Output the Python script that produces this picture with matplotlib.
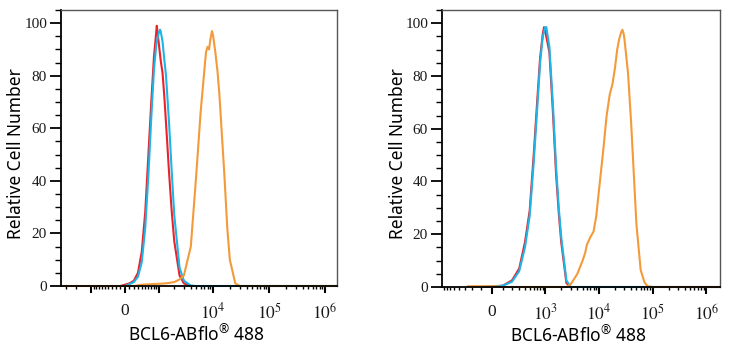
import numpy as np
import matplotlib
matplotlib.use("Agg")
import matplotlib.pyplot as plt
from matplotlib.ticker import FixedLocator, FixedFormatter, MultipleLocator

plt.rcParams["mathtext.fontset"] = "stix"

# ---------------- data: fluorescence intensity vs. relative cell number ----------------
# Left sample
left_red_x = [-100, 0, 100, 200, 300, 400, 500, 600, 700, 800, 900, 920, 1000, 1100,
              1200, 1300, 1400, 1600, 1800, 2000, 2500, 3000, 4000]
left_red_y = [0, 0.5, 1, 2, 5, 13, 28, 50, 70, 87, 97, 99, 93, 86,
              81, 72, 62, 43, 28, 17, 4, 1, 0]

left_blue_x = [0, 100, 200, 300, 400, 500, 600, 700, 800, 900, 1000, 1070, 1100, 1200,
               1300, 1400, 1600, 1800, 2000, 2500, 3000, 4000, 5000, 1.5e6]
left_blue_y = [0, 0.7, 1.5, 3.5, 9, 22, 42, 64, 82, 92, 96, 97.5, 97, 93,
               86, 80, 62, 43, 27, 7, 2, 0.2, 0, 0]

left_orange_x = [-3600, 200, 400, 1400, 2000, 2500, 3000, 4000, 5000, 6000, 7000, 7500,
                 8000, 8500, 9000, 9600, 10000, 11000, 12000, 13000, 14000, 16000,
                 18000, 20000, 25000, 30000, 1.6e6]
left_orange_y = [0, 0, 0.5, 1, 1.5, 2.5, 4, 15, 42, 66, 82, 89,
                 91, 90, 94, 97, 95.5, 89, 82, 73, 62, 42,
                 22, 10, 1, 0, 0]

# Right sample
right_red_x = [-100, 0, 100, 200, 300, 400, 500, 600, 700, 800, 900, 950, 1000, 1200,
               1400, 1600, 1800, 2000, 2500, 3000]
right_red_y = [0, 0.2, 0.5, 2.5, 7, 17, 29, 50, 70, 87, 96, 98.5, 97, 89,
               66, 43, 28, 17, 1.5, 0]

right_blue_x = [-100, 0, 100, 200, 300, 400, 500, 600, 700, 800, 900, 1000, 1050, 1200,
                1400, 1600, 1800, 2000, 2500, 3000, 1.7e6]
right_blue_y = [0, 0.2, 0.5, 2, 6, 15, 27, 47, 67, 85, 95, 98.5, 98.5, 91,
                69, 46, 30, 19, 2.5, 0, 0]

right_orange_x = [-250, 0, 100, 2500, 3000, 4000, 5000, 5600, 6000, 6500, 7000, 8000,
                  9000, 10000, 12000, 14000, 16000, 18000, 20000, 22000, 24000, 26000,
                  27500, 29000, 30000, 35000, 40000, 45000, 50000, 60000, 70000, 80000,
                  100000, 1.7e6]
right_orange_y = [0.3, 0.3, 0, 0, 1, 5, 10, 13, 16, 17.5, 19, 21,
                  27, 36, 51, 65, 73, 77, 83, 90, 94, 96.5,
                  97.5, 96, 94, 81, 62, 42, 24, 6.5, 2, 0.3,
                  0, 0]

# axis settings per panel: linear width of the arcsinh display, x limits
left_width, left_xlim = 536.0, (-3700, 1.64e6)
right_width, right_xlim = 207.0, (-865, 1.79e6)

major_vals = [-1e3, 0, 1e3, 1e4, 1e5, 1e6]
left_labels = ["", "0", "", r"$10^{4}$", r"$10^{5}$", r"$10^{6}$"]
right_labels = ["", "0", r"$10^{3}$", r"$10^{4}$", r"$10^{5}$", r"$10^{6}$"]

x_title = r"BCL6-ABflo$^{\mathregular{®}}$ 488"
y_title = "Relative Cell Number"

RED = "#e8232b"
BLUE = "#1fb4e6"
ORANGE = "#f39a3a"


def minor_values():
    vals = []
    for dec in [100, 1000, 10000, 100000]:
        for k in range(1, 10):
            v = k * dec
            if v not in major_vals:
                vals.append(v)
    neg = [-v for v in vals if v < 10000]
    return sorted(neg + vals)


def make_panel(fig, rect, width, xlim, labels, curves):
    ax = fig.add_axes(rect)
    fwd = lambda v: np.arcsinh(np.asarray(v, dtype=float) / width) / np.log(10)
    inv = lambda u: width * np.sinh(np.asarray(u, dtype=float) * np.log(10))
    ax.set_xscale("function", functions=(fwd, inv))
    ax.set_xlim(*xlim)
    ax.set_ylim(0, 105)

    for xs, ys, col in curves:
        ax.plot(xs, ys, color=col, lw=1.5, clip_on=False, solid_joinstyle="round")

    ax.xaxis.set_major_locator(FixedLocator(major_vals))
    ax.xaxis.set_major_formatter(FixedFormatter(labels))
    ax.xaxis.set_minor_locator(FixedLocator(minor_values()))
    ax.yaxis.set_major_locator(FixedLocator([0, 20, 40, 60, 80, 100]))
    ax.yaxis.set_minor_locator(MultipleLocator(5))

    ax.tick_params(axis="y", which="major", length=8, width=1.3, pad=2,
                   labelsize=11, labelcolor="#1a1a1a")
    ax.tick_params(axis="y", which="minor", length=4, width=1)
    ax.tick_params(axis="x", which="major", length=5, width=1.5, pad=7,
                   labelsize=12.5, labelcolor="#1a1a1a")
    ax.tick_params(axis="x", which="minor", length=2.5, width=1)
    for lab in ax.get_yticklabels() + ax.get_xticklabels():
        lab.set_fontfamily("Liberation Serif")

    for side in ["left", "bottom"]:
        ax.spines[side].set_color("black")
        ax.spines[side].set_linewidth(1.3)
    for side in ["top", "right"]:
        ax.spines[side].set_color("#555555")
        ax.spines[side].set_linewidth(1.0)

    ax.set_xlabel(x_title, fontsize=12.5, family="Noto Sans")
    ax.set_ylabel(y_title, fontsize=12.5, family="Noto Sans")
    return ax


fig = plt.figure(figsize=(7.31, 3.5), dpi=100)

axl = make_panel(fig, [61 / 731, 64 / 350, 276 / 731, 276 / 350],
                 left_width, left_xlim, left_labels,
                 [(left_red_x, left_red_y, RED),
                  (left_blue_x, left_blue_y, BLUE),
                  (left_orange_x, left_orange_y, ORANGE)])
axl.xaxis.set_label_coords(0.49, -0.14)
axl.yaxis.set_label_coords(-0.13, 0.48)

axr = make_panel(fig, [442 / 731, 63 / 350, 278 / 731, 277 / 350],
                 right_width, right_xlim, right_labels,
                 [(right_red_x, right_red_y, RED),
                  (right_blue_x, right_blue_y, BLUE),
                  (right_orange_x, right_orange_y, ORANGE)])
axr.xaxis.set_label_coords(0.49, -0.14)
axr.yaxis.set_label_coords(-0.125, 0.48)

fig.savefig("out.png", dpi=100)
